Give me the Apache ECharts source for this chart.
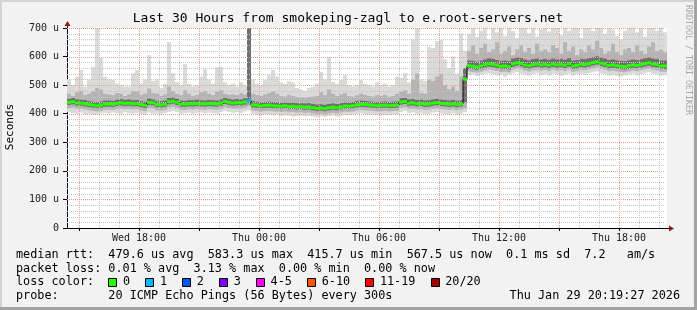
<!DOCTYPE html>
<html><head><meta charset="utf-8">
<script src="https://cdn.jsdelivr.net/npm/echarts@6/dist/echarts.min.js"></script>
<style>html,body{margin:0;padding:0;background:#f2f2f2}#c{width:697px;height:310px}</style>
</head><body><div id="c"></div>
<script>
// ---- time base: hours since Wed 00:00, 12-minute bins ----
const startHour = 14.4;
const binHours = 0.2;

// ---- median RTT per bin (microseconds) ----
const median = [
440,442,438,437,435,432,430,428,430,434,
434,433,436,438,436,437,435,436,432,429,
440,438,432,431,433,442,444,440,434,433,
435,434,436,435,434,436,435,434,437,443,
440,437,439,438,441,446,431,430,427,429,
430,428,427,426,428,425,426,424,425,423,
424,421,419,420,418,421,423,421,424,427,
426,428,431,433,432,431,430,428,429,430,
428,429,430,441,443,437,438,435,436,433,
434,437,439,436,435,433,435,432,434,521,
568,566,564,567,572,575,573,570,566,567,
565,574,578,576,571,568,572,574,571,573,
570,574,571,573,570,575,567,569,573,572,
575,579,582,577,574,569,571,568,566,565,
568,571,569,572,575,578,574,572,567,567];

// ---- lost pings per bin ----
const lostPings = [
0,0,0,0,0,0,0,0,0,0, 0,0,0,0,0,0,0,0,0,0, 0,0,0,0,0,0,0,0,0,0,
0,0,0,0,0,0,0,0,0,0, 0,0,0,0,0,1,0,0,0,0, 0,0,0,0,0,0,0,0,0,0,
0,0,0,0,0,0,0,0,0,0, 0,0,0,0,0,0,0,0,0,0, 0,0,0,0,0,0,0,0,0,0,
0,0,0,0,0,0,0,0,0,0, 0,0,0,0,0,0,0,0,0,0, 0,0,0,0,0,0,0,0,0,0,
0,0,0,0,0,0,0,0,0,0, 0,0,0,0,0,0,0,0,0,0, 0,0,0,0,0,0,0,0,0,0];

// ---- smoke: spread of the 20 pings per bin ----
const smokeMax = [
518,500,530,553,495,520,564,700,595,529,
520,518,505,500,495,495,542,553,505,520,
605,515,520,490,505,651,542,510,500,574,
505,495,500,530,556,520,505,563,564,510,
500,505,495,510,500,700,520,505,500,518,
535,553,530,510,505,515,510,490,485,480,
490,495,505,546,520,599,511,505,518,535,
500,495,500,518,505,500,495,510,500,505,
495,500,530,525,542,510,660,700,520,515,
634,630,654,658,591,560,600,540,682,620,
680,700,669,690,700,660,700,685,700,672,
700,690,665,700,700,682,700,670,695,700,
688,700,700,675,700,690,700,700,665,700,
700,690,700,700,680,700,695,672,660,690,
700,700,685,700,670,700,700,690,700,685];

const smokeHigh = [
470,462,475,480,465,470,478,490,485,470,
468,465,472,470,462,468,480,478,466,470,
488,472,470,462,468,495,480,470,465,482,
470,462,466,475,480,470,465,478,482,470,
466,468,465,472,468,700,470,465,462,468,
472,478,470,462,460,466,462,458,456,455,
458,460,462,475,465,485,470,462,468,472,
462,460,465,470,466,462,460,465,462,466,
460,462,470,478,482,470,520,540,472,470,
520,515,530,540,500,485,495,480,530,500,
620,640,610,630,645,615,625,650,610,620,
635,605,625,640,615,630,610,645,620,625,
615,640,630,610,650,620,635,605,625,615,
640,625,655,630,610,620,645,615,605,625,
630,615,640,620,610,635,650,620,625,615];

const darkHigh = [
452,455,450,449,448,444,442,441,443,446,
446,445,449,451,448,450,447,448,444,442,
453,450,444,444,446,455,457,452,446,445,
447,447,449,447,446,448,447,446,450,456,
452,449,451,450,454,700,444,442,440,441,
442,441,440,438,440,438,439,437,437,436,
437,434,432,433,431,434,436,434,437,440,
439,441,444,446,445,443,442,441,442,443,
441,442,443,454,456,450,451,448,449,446,
447,450,452,449,448,446,448,445,447,560,
586,585,582,586,590,594,592,588,585,586,
584,593,597,595,590,587,591,593,590,592,
589,593,590,592,589,594,586,588,592,591,
594,598,601,596,593,588,590,587,585,584,
587,590,588,591,594,597,593,591,586,586];

const darkLow = [
431,433,429,428,426,423,421,419,421,425,
425,424,427,429,427,428,426,427,423,420,
431,429,423,422,424,433,435,431,425,424,
426,425,427,426,425,427,426,425,428,434,
431,428,430,429,432,437,422,421,418,420,
421,419,418,417,419,416,417,415,416,414,
415,412,410,411,409,412,414,412,415,418,
417,419,422,424,423,422,421,419,420,421,
419,420,421,432,434,428,429,426,427,424,
425,428,430,427,426,424,426,423,425,440,
558,556,554,557,562,565,563,560,556,557,
555,564,568,566,561,558,562,564,561,563,
560,564,561,563,560,565,557,559,563,562,
565,569,572,567,564,559,561,558,556,555,
558,561,559,562,565,568,564,562,557,557];

const smokeLow = [
420,422,418,417,415,412,410,408,410,414,
414,413,416,418,416,417,415,416,412,409,
420,418,412,411,413,422,424,420,414,413,
415,414,416,415,414,416,415,414,417,423,
420,417,419,418,421,426,411,410,407,409,
410,408,407,406,408,405,406,404,405,403,
404,401,399,400,398,401,403,401,404,407,
406,408,411,413,412,411,410,408,409,410,
408,409,410,421,423,417,418,415,416,413,
414,417,419,416,415,413,415,412,414,420,
548,546,544,547,552,555,553,550,546,547,
545,554,558,556,551,548,552,554,551,553,
550,554,551,553,550,555,547,549,553,552,
555,559,562,557,554,549,551,548,546,545,
548,551,549,552,555,558,554,552,547,547];

const smokeMin = [
405,402,400,404,398,400,396,398,401,403,
400,404,402,399,405,401,400,403,398,396,
404,400,401,398,402,406,409,405,400,402,
404,400,403,405,401,404,402,400,405,410,
406,403,405,402,408,412,400,396,394,398,
396,394,397,392,395,393,390,392,394,391,
392,390,388,391,389,392,394,390,393,396,
395,398,400,402,398,397,395,396,393,396,
395,397,398,406,409,402,405,400,403,398,
400,404,406,401,399,398,402,396,400,405,
535,538,532,536,540,542,538,534,536,530,
537,541,545,540,536,533,539,542,535,538,
534,540,537,532,536,541,534,538,540,536,
542,545,548,541,538,533,536,532,530,534,
537,540,535,539,542,545,540,537,533,535];

// ---- axis ticks / labels ----
const tickHours = [18, 24, 30, 36, 42];
const tickLabels = ['Wed 18:00', 'Thu 00:00', 'Thu 06:00', 'Thu 12:00', 'Thu 18:00'];
const majorGridHours = [15, 18, 21, 24, 27, 30, 33, 36, 39, 42];
const minorGridHours = [16, 17, 19, 20, 22, 23, 25, 26, 28, 29, 31, 32, 34, 35, 37, 38, 40, 41, 43, 44];
const yMax = 700;

// ---- legend ----
const lossLabels = ['0', '1', '2', '3', '4-5', '6-10', '11-19', '20/20'];
const lossColors = ['#26ff00', '#00b8ff', '#0059ff', '#7e00ff', '#ff00ff', '#ff5500', '#ff0000', '#a10000'];
const titleText = 'Last 30 Hours from smokeping-zagl to e.root-servers.net';
const line1 = 'median rtt:  479.6 us avg  583.3 us max  415.7 us min  567.5 us now  0.1 ms sd  7.2   am/s';
const line2 = 'packet loss: 0.01 % avg  3.13 % max  0.00 % min  0.00 % now';
const line4 = 'probe:       20 ICMP Echo Pings (56 Bytes) every 300s';
const stampText = 'Thu Jan 29 20:19:27 2026';

function lossIndex(n) {
  n = n || 0;
  if (n <= 3) return n;
  if (n <= 5) return 4;
  if (n <= 10) return 5;
  if (n <= 19) return 6;
  return 7;
}
const nBins = median.length;
const endHour = startHour + nBins * binHours;
const binStart = i => startHour + i * binHours;

const MONO = "'DejaVu Sans Mono', monospace";

function band(lo, hi, color, z) {
  return {
    type: 'custom', z: z, silent: true, animation: false, clip: true,
    data: lo.map((v, i) => [binStart(i), binStart(i + 1), v, hi[i]]),
    encode: { x: [0, 1], y: [2, 3] },
    renderItem(params, api) {
      const a = api.coord([api.value(0), api.value(3)]);
      const b = api.coord([api.value(1), api.value(2)]);
      return { type: 'rect', shape: { x: a[0], y: a[1], width: b[0] - a[0], height: b[1] - a[1] }, style: { fill: color } };
    }
  };
}

function vGrid(hours, color) {
  return {
    type: 'custom', z: 3, silent: true, animation: false,
    data: hours.map(h => [h, 0]),
    encode: { x: 0, y: 1 },
    renderItem(params, api) {
      const a = api.coord([api.value(0), 0]);
      const b = api.coord([api.value(0), yMax]);
      const x = Math.round(a[0]) + 0.5;
      return { type: 'line', shape: { x1: x, y1: a[1], x2: x, y2: b[1] }, style: { stroke: color, lineWidth: 1, lineDash: [1, 1] } };
    }
  };
}
function hGrid(values, color) {
  return {
    type: 'custom', z: 3, silent: true, animation: false,
    data: values.map(v => [startHour, v]),
    encode: { x: 0, y: 1 },
    renderItem(params, api) {
      const a = api.coord([startHour, api.value(1)]);
      const b = api.coord([endHour, api.value(1)]);
      const y = Math.round(a[1]) + 0.5;
      return { type: 'line', shape: { x1: a[0], y1: y, x2: b[0] - 2, y2: y }, style: { stroke: color, lineWidth: 1, lineDash: [1, 1] } };
    }
  };
}
const yMajorVals = [], yMinorVals = [];
for (let v = 20; v <= yMax; v += 20) { (v % 100 === 0 ? yMajorVals : yMinorVals).push(v); }

const chart = echarts.init(document.getElementById('c'), null, { renderer: 'canvas' });

const medianLine = median.map((v, i) => [binStart(i), v]);
medianLine.push([endHour, median[nBins - 1]]);

const option = {
  backgroundColor: '#f2f2f2',
  animation: false,
  grid: { left: 67, top: 28, width: 600, height: 200, show: true, backgroundColor: '#ffffff', borderWidth: 0 },
  xAxis: {
    type: 'value', min: startHour, max: endHour,
    axisLine: { show: true, lineStyle: { color: '#000', width: 1 } },
    axisTick: { show: true, length: 3, customValues: majorGridHours, lineStyle: { color: '#000' } },
    axisLabel: {
      show: true, customValues: tickHours, margin: 5,
      fontFamily: MONO, fontSize: 10, color: '#222',
      formatter: v => { const k = tickHours.indexOf(Math.round(v)); return k >= 0 ? tickLabels[k] : ''; }
    },
    splitLine: { show: false }
  },
  yAxis: {
    type: 'value', min: 0, max: yMax, interval: 100,
    axisLine: { show: true, lineStyle: { color: '#000', width: 1 } },
    axisTick: { show: true, length: 4, lineStyle: { color: '#000' } },
    axisLabel: { margin: 8, fontFamily: MONO, fontSize: 10, color: '#222', formatter: v => v === 0 ? '0' : v + ' u' },
    splitLine: { show: false }
  },
  series: [
    band(smokeMin, smokeMax, '#dadada', 1),
    band(smokeLow, smokeHigh, '#b4b4b4', 1),
    band(darkLow, darkHigh, '#707070', 1),
    vGrid(minorGridHours, '#c4c4c4'),
    hGrid(yMinorVals, '#c4c4c4'),
    vGrid(majorGridHours, '#ec9a9a'),
    hGrid(yMajorVals, '#ec9a9a'),
    {
      type: 'line', z: 4, step: 'end', symbol: 'none', silent: true, animation: false,
      data: medianLine, lineStyle: { color: '#000', width: 1 }
    },
    {
      type: 'custom', z: 5, silent: true, animation: false,
      data: median.map((v, i) => [binStart(i), binStart(i + 1), v, lostPings[i]]),
      encode: { x: [0, 1], y: 2 },
      renderItem(params, api) {
        const a = api.coord([api.value(0), api.value(2)]);
        const b = api.coord([api.value(1), api.value(2)]);
        return { type: 'rect', shape: { x: a[0], y: a[1] - 1.5, width: b[0] - a[0], height: 3 },
          style: { fill: lossColors[lossIndex(api.value(3))] } };
      }
    }
  ]
};
chart.setOption(option);

// ---- decorations: frame, texts, legend, axis arrows ----
const origin = chart.convertToPixel({ gridIndex: 0 }, [startHour, 0]);
const xEnd = chart.convertToPixel({ gridIndex: 0 }, [endHour, 0]);
const yEnd = chart.convertToPixel({ gridIndex: 0 }, [startHour, yMax]);
const ox = Math.round(origin[0]) + 0.5, oy = Math.round(origin[1]) + 0.5;
const ex = Math.round(xEnd[0]), ty = Math.round(yEnd[1]);

const g = [];
g.push({ type: 'rect', shape: { x: 0, y: 0, width: 697, height: 2 }, style: { fill: '#d4d4d4' }, silent: true });
g.push({ type: 'rect', shape: { x: 0, y: 0, width: 2, height: 310 }, style: { fill: '#d4d4d4' }, silent: true });
g.push({ type: 'rect', shape: { x: 0, y: 307, width: 697, height: 3 }, style: { fill: '#a3a3a3' }, silent: true });
g.push({ type: 'rect', shape: { x: 694, y: 0, width: 3, height: 310 }, style: { fill: '#a3a3a3' }, silent: true });
g.push({ type: 'line', shape: { x1: ox, y1: ty, x2: ox, y2: ty - 4 }, style: { stroke: '#000', lineWidth: 1 }, silent: true, z: 10 });
g.push({ type: 'polygon', shape: { points: [[ox - 3, ty - 2], [ox + 3, ty - 2], [ox, ty - 7]] }, style: { fill: '#8b1a1a' }, silent: true, z: 10 });
g.push({ type: 'line', shape: { x1: ex, y1: oy, x2: ex + 3, y2: oy }, style: { stroke: '#000', lineWidth: 1 }, silent: true, z: 10 });
g.push({ type: 'polygon', shape: { points: [[ex + 2, oy - 3], [ex + 2, oy + 3], [ex + 7, oy]] }, style: { fill: '#8b1a1a' }, silent: true, z: 10 });
g.push({ type: 'text', x: 348, y: 19, style: { text: titleText, font: "13px 'DejaVu Sans Mono'", fill: '#000', align: 'center', verticalAlign: 'middle' }, silent: true });
g.push({ type: 'text', x: 10, y: 127, rotation: Math.PI / 2, style: { text: 'Seconds', font: "11px 'DejaVu Sans Mono'", fill: '#000', align: 'center', verticalAlign: 'middle' }, silent: true });
g.push({ type: 'text', x: 688, y: 5, rotation: -Math.PI / 2, style: { text: 'RRDTOOL / TOBI OETIKER', font: "8.3px 'DejaVu Sans Mono'", fill: '#a8a8a8', align: 'left', verticalAlign: 'middle' }, silent: true });
const LF = "11.8px 'DejaVu Sans Mono'";
g.push({ type: 'text', x: 16, y: 255, style: { text: line1, font: LF, fill: '#000', verticalAlign: 'middle' }, silent: true });
g.push({ type: 'text', x: 16, y: 268.5, style: { text: line2, font: LF, fill: '#000', verticalAlign: 'middle' }, silent: true });
g.push({ type: 'text', x: 16, y: 282, style: { text: 'loss color:', font: LF, fill: '#000', verticalAlign: 'middle' }, silent: true });
let bx = 108.3;
lossLabels.forEach((lab, k) => {
  g.push({ type: 'rect', shape: { x: Math.round(bx) + 0.5, y: 278.5, width: 8, height: 8 }, style: { fill: lossColors[k], stroke: '#000', lineWidth: 1 }, silent: true });
  g.push({ type: 'text', x: bx + 14.7, y: 282, style: { text: lab, font: LF, fill: '#000', verticalAlign: 'middle' }, silent: true });
  bx += 29.8 + 7.1 * lab.length;
});
g.push({ type: 'text', x: 16, y: 295.5, style: { text: line4, font: LF, fill: '#000', verticalAlign: 'middle' }, silent: true });
g.push({ type: 'text', x: 680, y: 295.5, style: { text: stampText, font: LF, fill: '#000', align: 'right', verticalAlign: 'middle' }, silent: true });

chart.setOption({ graphic: g });
</script>
</body></html>
